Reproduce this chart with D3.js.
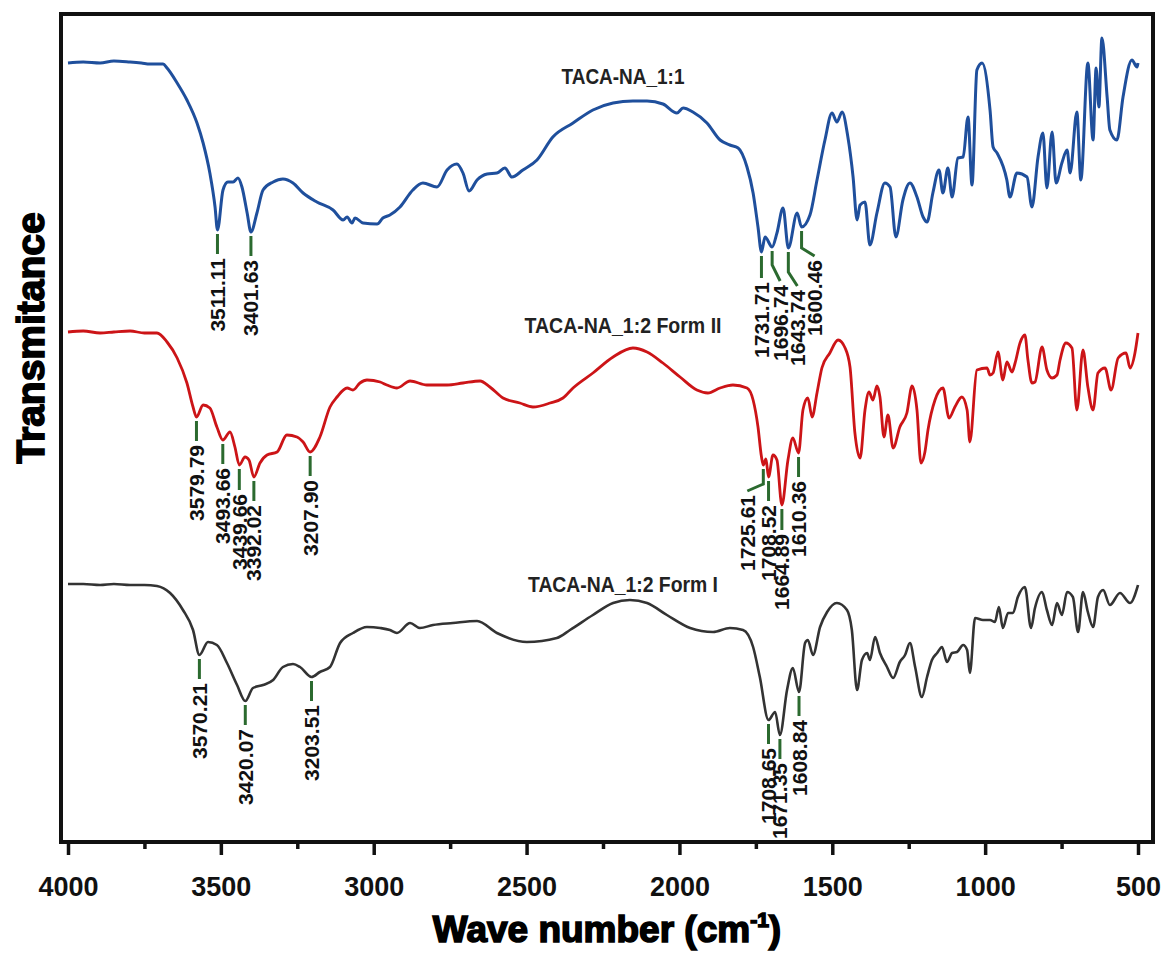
<!DOCTYPE html>
<html>
<head>
<meta charset="utf-8">
<script src="https://cdn.jsdelivr.net/npm/d3@7"></script>
<style>
  body { margin: 0; background: #fff; }
  svg { display: block; font-family: "Liberation Sans", Arial, sans-serif; }
</style>
</head>
<body>
<svg id="chart" width="1164" height="953"></svg>
<script>
// x ticks (wavenumber, cm-1)
var majorTicks = [4000, 3500, 3000, 2500, 2000, 1500, 1000, 500]
var minorTicks = [3750, 3250, 2750, 2250, 1750, 1250, 750]

// spectra: [wavenumber, transmittance (a.u.)]
var blueTrace = [
  [4000,77.9],[3950,78.0],[3895,77.9],[3850,78.1],[3797,78.0],[3760,77.9],[3732,77.8],[3689,77.8],
  [3676,77.4],[3643,75.9],[3611,74.2],[3578,71.9],[3558,69.9],[3536,66.9],[3519,63.5],[3511.11,61.2],
  [3493,65.2],[3477,66.0],[3460,66.0],[3444,66.4],[3431,65.5],[3414,62.9],[3401.63,61.0],[3382,62.9],
  [3362,65.2],[3329,66.0],[3297,66.3],[3264,65.9],[3231,64.9],[3186,64.0],[3133,63.2],[3100,62.2],
  [3087,62.5],[3071,61.9],[3061,62.4],[3035,61.9],[2989,61.8],[2970,62.4],[2947,62.7],[2914,63.5],
  [2872,65.2],[2839,65.9],[2793,65.5],[2760,67.2],[2728,67.8],[2708,66.9],[2688,65.1],[2662,66.2],
  [2629,66.8],[2597,66.9],[2571,67.4],[2548,66.5],[2512,67.2],[2466,68.2],[2414,70.5],[2348,71.9],
  [2283,73.2],[2217,73.9],[2152,74.1],[2106,74.1],[2054,73.8],[2008,72.9],[1988,73.4],[1956,73.0],
  [1910,71.9],[1867,70.2],[1835,69.7],[1808,69.4],[1779,67.5],[1759,64.9],[1743,61.5],[1731.71,59.0],
  [1720,60.5],[1696.74,59.5],[1681,60.9],[1661,63.4],[1643.74,59.4],[1615,62.9],[1600.46,61.5],[1573,62.7],
  [1550,66.2],[1524,70.2],[1501,72.9],[1485,72.0],[1468,73.0],[1449,70.5],[1432,66.5],[1419,62.2],
  [1409,63.7],[1393,64.0],[1377,59.7],[1354,62.9],[1328,65.9],[1311,65.5],[1292,60.5],[1269,64.2],
  [1246,65.9],[1223,64.5],[1203,62.5],[1190,62.0],[1171,64.9],[1151,67.2],[1138,64.9],[1122,67.4],
  [1108,64.5],[1089,68.4],[1072,68.5],[1056,72.5],[1043,65.7],[1027,77.2],[1010,77.9],[984,73.2],
  [974,69.5],[961,68.9],[929,66.2],[919,64.5],[896,66.9],[863,66.5],[847,63.5],[827,68.5],
  [811,70.9],[798,65.4],[781,71.0],[768,65.9],[749,67.9],[732,69.2],[722,66.9],[700,73.0],
  [687,66.2],[664,77.9],[647,70.2],[637,77.4],[628,73.5],[618,80.4],[601,74.5],[592,71.2],
  [569,70.2],[549,74.5],[520,78.2],[503,77.5],[500,77.9]
]

var redTrace = [
  [4000,51.0],[3950,51.1],[3895,50.9],[3850,51.0],[3797,51.1],[3750,50.9],[3709,50.9],[3676,50.0],
  [3643,48.4],[3611,45.9],[3591,43.5],[3579.79,42.5],[3558,43.7],[3536,43.4],[3513,41.5],[3493.66,40.2],
  [3470,41.0],[3454,39.5],[3439.66,37.7],[3421,38.5],[3408,38.2],[3392.02,36.5],[3372,37.9],[3349,38.7],
  [3316,39.0],[3284,40.7],[3251,40.5],[3231,40.0],[3207.90,39.0],[3176,40.5],[3143,43.5],[3120,44.5],
  [3087,45.4],[3068,45.2],[3045,45.9],[3022,46.2],[2979,46.0],[2957,45.7],[2924,45.4],[2881,46.1],
  [2826,45.7],[2760,45.7],[2708,45.9],[2652,46.1],[2620,45.5],[2577,44.4],[2522,43.9],[2479,43.5],
  [2423,43.9],[2381,44.4],[2348,45.4],[2283,46.9],[2217,48.5],[2152,49.4],[2106,49.0],[2054,47.9],
  [1998,46.5],[1943,45.2],[1907,44.9],[1867,45.4],[1825,45.7],[1779,45.4],[1759,44.2],[1743,41.5],
  [1732,38.6],[1725.61,37.7],[1717,38.3],[1708.52,36.5],[1694,38.7],[1681,38.2],[1664.89,33.7],[1645,38.2],
  [1629,40.4],[1610.36,38.9],[1596,43.2],[1580,44.4],[1566,42.5],[1550,44.9],[1534,47.4],[1508,48.9],
  [1481,50.2],[1458,49.4],[1442,47.5],[1426,40.9],[1409,38.4],[1393,43.2],[1380,45.0],[1367,44.2],
  [1354,45.6],[1344,44.5],[1331,40.5],[1318,42.7],[1301,39.4],[1279,41.5],[1256,42.9],[1239,45.6],
  [1223,43.2],[1210,37.9],[1197,39.0],[1187,41.2],[1164,44.2],[1138,45.4],[1118,42.4],[1099,43.5],
  [1076,44.5],[1059,43.2],[1050,40.0],[1027,47.2],[994,47.4],[984,46.7],[974,46.9],[958,49.0],
  [942,46.2],[929,48.0],[912,47.0],[902,47.9],[886,49.9],[870,50.7],[860,48.2],[847,45.9],
  [837,46.0],[814,49.5],[798,47.2],[781,46.4],[765,46.7],[755,48.2],[736,49.9],[716,49.4],
  [700,43.2],[680,49.2],[664,45.5],[647,43.2],[631,46.9],[608,47.4],[588,45.2],[565,48.4],
  [539,48.9],[526,47.4],[510,48.9],[500,50.9]
]

var grayTrace = [
  [4000,25.8],[3950,25.8],[3895,25.7],[3850,25.8],[3797,25.7],[3750,25.7],[3709,25.6],[3666,24.9],
  [3624,23.2],[3591,21.2],[3570.21,18.7],[3542,20.0],[3513,19.7],[3480,17.9],[3447,15.7],[3420.07,14.1],
  [3395,15.4],[3362,15.7],[3329,16.2],[3297,17.5],[3264,17.8],[3241,17.5],[3203.51,16.5],[3176,17.0],
  [3143,17.5],[3110,19.9],[3068,20.9],[3022,21.5],[2979,21.4],[2947,21.2],[2924,20.9],[2881,21.9],
  [2849,21.4],[2806,21.7],[2741,21.9],[2662,22.1],[2597,20.9],[2499,20.0],[2401,20.4],[2358,21.2],
  [2283,22.7],[2217,23.9],[2162,24.2],[2106,23.9],[2041,22.7],[1965,21.4],[1890,21.0],[1835,21.4],
  [1792,21.2],[1759,19.5],[1737,16.5],[1708.65,12.2],[1687,13.0],[1671.35,10.7],[1648,15.2],[1629,17.4],
  [1608.84,15.0],[1589,19.9],[1580,20.2],[1563,18.7],[1540,21.5],[1517,23.0],[1485,23.9],[1452,23.2],
  [1436,21.2],[1419,15.2],[1403,18.2],[1386,18.9],[1377,18.2],[1360,20.5],[1344,18.9],[1321,17.5],
  [1301,16.4],[1279,18.0],[1262,18.7],[1246,19.9],[1229,17.5],[1207,14.5],[1190,16.5],[1174,18.2],
  [1157,18.9],[1141,19.5],[1125,18.0],[1108,18.9],[1092,19.0],[1072,19.7],[1059,19.2],[1050,16.9],
  [1033,22.4],[1007,22.2],[984,22.2],[968,22.0],[955,23.5],[942,21.4],[925,22.9],[909,22.9],
  [893,24.5],[870,25.5],[850,21.4],[837,23.4],[814,25.0],[798,23.2],[781,21.7],[765,23.9],
  [749,22.7],[732,25.0],[713,24.5],[696,21.0],[680,25.0],[664,23.0],[647,21.5],[631,24.5],
  [614,25.2],[592,23.7],[559,24.9],[526,23.9],[500,25.7]
]

var seriesNames = ['TACA-NA_1:1', 'TACA-NA_1:2 Form II', 'TACA-NA_1:2 Form I']

// marked peaks (cm-1)
var bluePeaks = [3511.11, 3401.63, 1731.71, 1696.74, 1643.74, 1600.46]
var redPeaks = [3579.79, 3493.66, 3439.66, 3392.02, 3207.90, 1725.61, 1708.52, 1664.89, 1610.36]
var grayPeaks = [3570.21, 3420.07, 3203.51, 1708.65, 1671.35, 1608.84]

// leader shapes: [vertical length, bend dx, bend dy] in px
var blueLeaders = [[20,0,0],[20,0,0],[22,0,0],[14,8,16],[20,9,14],[17,13,8]]
var redLeaders = [[20,0,0],[20,0,0],[21,0,0],[20,0,0],[20,0,0],[15,-16,7],[20,0,0],[21,0,0],[20,0,0]]
var grayLeaders = [[20,0,0],[20,0,0],[20,0,0],[20,0,0],[20,0,0],[20,0,0]]

var svg = d3.select('#chart')

var frame = {left: 61, top: 14, right: 1153, bottom: 842}

var x = d3.scaleLinear().domain([4000, 500]).range([68, 1138])
var y = d3.scaleLinear().domain([0, 82.8]).range([842, 14])

// axes
var gx = svg.append('g').attr('transform', 'translate(0,' + frame.bottom + ')')
gx.call(d3.axisBottom(x).tickValues(majorTicks).tickSize(13).tickFormat(d3.format('d')))
gx.select('.domain').remove()
gx.selectAll('.tick line').attr('stroke', '#111').attr('stroke-width', 3.5)
gx.selectAll('.tick text')
    .attr('y', 54).attr('dy', null)
    .attr('fill', '#111')
    .style('font-size', '27px').style('font-weight', 'bold')

var gm = svg.append('g').attr('transform', 'translate(0,' + frame.bottom + ')')
gm.call(d3.axisBottom(x).tickValues(minorTicks).tickSize(7).tickFormat(''))
gm.select('.domain').remove()
gm.selectAll('.tick line').attr('stroke', '#111').attr('stroke-width', 3.5)

svg.append('rect')
    .attr('x', frame.left).attr('y', frame.top)
    .attr('width', frame.right - frame.left).attr('height', frame.bottom - frame.top)
    .attr('fill', 'none').attr('stroke', '#111').attr('stroke-width', 4)

// titles
var xt = svg.append('text')
    .attr('x', 607).attr('y', 942)
    .attr('text-anchor', 'middle')
    .attr('fill', '#000').attr('stroke', '#000').attr('stroke-width', 1.6)
    .style('font-size', '37px').style('font-weight', 'bold')
xt.append('tspan').text('Wave number (cm')
xt.append('tspan').text('-1').style('font-size', '21px').attr('dy', -15)
xt.append('tspan').text(')').attr('dy', 15)

svg.append('text')
    .attr('transform', 'translate(44,338) rotate(-90)')
    .attr('text-anchor', 'middle')
    .attr('fill', '#000').attr('stroke', '#000').attr('stroke-width', 1.6)
    .style('font-size', '39px').style('font-weight', 'bold')
    .text('Transmitance')

// spectra
var line = d3.line()
    .x(function(d) { return x(d[0]) })
    .y(function(d) { return y(d[1]) })
    .curve(d3.curveMonotoneX)

var series = [
  {data: blueTrace, color: '#1f4f9c', width: 3, peaks: bluePeaks, leaders: blueLeaders, name: seriesNames[0], ny: 84, len: 123},
  {data: redTrace, color: '#cc1417', width: 2.8, peaks: redPeaks, leaders: redLeaders, name: seriesNames[1], ny: 333, len: 197},
  {data: grayTrace, color: '#333333', width: 2.6, peaks: grayPeaks, leaders: grayLeaders, name: seriesNames[2], ny: 592, len: 190}
]

function valueAt(data, w) {
  for (var i = 0; i < data.length - 1; i++) {
    var a = data[i], b = data[i + 1]
    if (w <= a[0] && w >= b[0]) {
      var t = (a[0] - w) / (a[0] - b[0])
      return a[1] + t * (b[1] - a[1])
    }
  }
  return data[data.length - 1][1]
}

series.forEach(function(s) {
  svg.append('path')
      .datum(s.data)
      .attr('d', line)
      .attr('fill', 'none')
      .attr('stroke', s.color)
      .attr('stroke-width', s.width)
      .attr('stroke-linejoin', 'round')

  svg.append('text')
      .attr('x', 623).attr('y', s.ny)
      .attr('text-anchor', 'middle')
      .attr('fill', '#222')
      .attr('textLength', s.len).attr('lengthAdjust', 'spacingAndGlyphs')
      .style('font-size', '22px').style('font-weight', 'bold')
      .text(s.name)

  var g = svg.append('g')
  s.peaks.forEach(function(p, i) {
    var lead = s.leaders[i]
    var px = x(p), py = y(valueAt(s.data, p)) + 4
    var y1 = py + lead[0]
    var ex = px + lead[1], ey = y1 + lead[2]
    var pts = [[px, py], [px, y1]]
    if (lead[1] || lead[2]) pts.push([ex, ey])
    g.append('path')
        .attr('d', d3.line()(pts))
        .attr('fill', 'none')
        .attr('stroke', '#2b6a2f')
        .attr('stroke-width', 3)
    g.append('text')
        .attr('transform', 'translate(' + ex + ',' + (ey + 4) + ') rotate(-90)')
        .attr('text-anchor', 'end')
        .attr('dy', '0.36em')
        .attr('fill', '#111')
        .style('font-size', '21px').style('font-weight', 'bold')
        .text(d3.format('.2f')(p))
  })
})
</script>
</body>
</html>
